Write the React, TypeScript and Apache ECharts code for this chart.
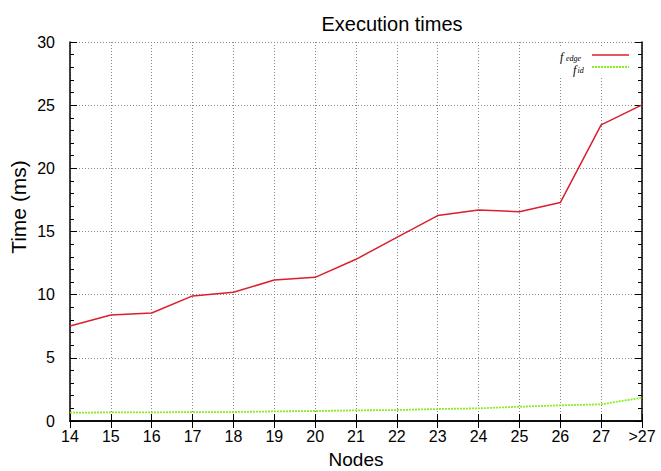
import React, { useEffect, useRef } from "react";
import * as echarts from "echarts";

const nodes = ["14", "15", "16", "17", "18", "19", "20", "21", "22", "23", "24", "25", "26", "27", ">27"];
const fEdge = [7.52, 8.39, 8.55, 9.9, 10.19, 11.16, 11.37, 12.8, 14.54, 16.26, 16.7, 16.57, 17.29, 23.44, 25.02];
const fId = [0.66, 0.68, 0.68, 0.71, 0.71, 0.76, 0.79, 0.84, 0.87, 0.95, 1.0, 1.13, 1.24, 1.32, 1.84];

const FONT = "Liberation Sans";
const SERIF = "'Liberation Serif'";
const RED = "#d9202c";
const GREEN = "#88ee22";

export default function App() {
  const ref = useRef<HTMLDivElement>(null);
  useEffect(() => {
    const chart = echarts.init(ref.current!, null, { renderer: "svg" });
    const frame = { show: true, lineStyle: { color: "#000", width: 1.5 } };
    const grid = { show: true, lineStyle: { color: "#888", type: [1, 2] as any, width: 1 } };
    const tick = { show: true, inside: true, length: 7, lineStyle: { color: "#000" } };
    const minor = { show: true, splitNumber: 5, length: 4, lineStyle: { color: "#000" } };
    const legendText = (text: string, x: number, y: number, size: number) => ({
      type: "text",
      x,
      y,
      z: 11,
      style: {
        text,
        font: `italic ${size}px ${SERIF}`,
        fill: "#000",
        textVerticalAlign: "middle",
      },
    });
    chart.setOption({
      animation: false,
      backgroundColor: "#fff",
      title: {
        text: "Execution times",
        left: 387,
        top: 9,
        textAlign: "center",
        textStyle: { fontFamily: FONT, fontSize: 20, fontWeight: "normal", color: "#000" },
      },
      grid: { left: 70, right: 19, top: 42, bottom: 50, containLabel: false, outerBoundsMode: "none" },
      xAxis: [
        {
          type: "category",
          data: nodes,
          boundaryGap: false,
          axisLine: frame,
          axisTick: { ...tick, alignWithLabel: true },
          axisLabel: { fontFamily: FONT, fontSize: 16, color: "#000", margin: 7, interval: 0 },
          splitLine: grid,
          name: "Nodes",
          nameLocation: "middle",
          nameGap: 29,
          nameTextStyle: { fontFamily: FONT, fontSize: 19, color: "#000" },
        },
        {
          type: "category",
          data: nodes,
          boundaryGap: false,
          position: "top",
          axisLine: frame,
          axisTick: tick,
          axisLabel: { show: false },
          splitLine: { show: false },
        },
      ],
      yAxis: [
        {
          type: "value",
          min: 0,
          max: 30,
          interval: 5,
          axisLine: frame,
          axisTick: tick,
          minorTick: minor,
          axisLabel: { fontFamily: FONT, fontSize: 16, color: "#000", margin: 15 },
          splitLine: grid,
        },
        {
          type: "value",
          min: 0,
          max: 30,
          interval: 5,
          position: "right",
          axisLine: frame,
          axisTick: tick,
          minorTick: minor,
          axisLabel: { show: false },
          splitLine: { show: false },
        },
      ],
      series: [
        {
          name: "f_edge",
          type: "line",
          data: fEdge,
          symbol: "none",
          lineStyle: { color: RED, width: 1.5 },
          z: 3,
        },
        {
          name: "f_id",
          type: "line",
          data: fId,
          symbol: "none",
          lineStyle: { color: GREEN, width: 1.8, type: [2, 1] as any },
          z: 3,
        },
      ],
      graphic: [
        {
          type: "text",
          x: 18,
          y: 207,
          rotation: Math.PI / 2,
          style: {
            text: "Time (ms)",
            font: `21px ${FONT}`,
            fill: "#000",
            textAlign: "center",
            textVerticalAlign: "middle",
          },
        },
        { type: "rect", left: 552, top: 46, shape: { width: 86, height: 30 }, style: { fill: "#fff" }, z: 10 },
        legendText("f", 560, 57, 12),
        legendText("edge", 566, 58.5, 8),
        { type: "line", z: 11, shape: { x1: 592, y1: 55, x2: 629, y2: 55 }, style: { stroke: RED, lineWidth: 1.5 } },
        legendText("f", 573, 69.5, 12),
        legendText("id", 577.5, 70.5, 8),
        { type: "line", z: 11, shape: { x1: 592, y1: 67, x2: 629, y2: 67 }, style: { stroke: GREEN, lineWidth: 1.8, lineDash: [2, 1] } },
      ],
    });
    return () => chart.dispose();
  }, []);
  return <div ref={ref} style={{ width: 661, height: 471, position: "absolute", left: 0, top: 0 }} />;
}
